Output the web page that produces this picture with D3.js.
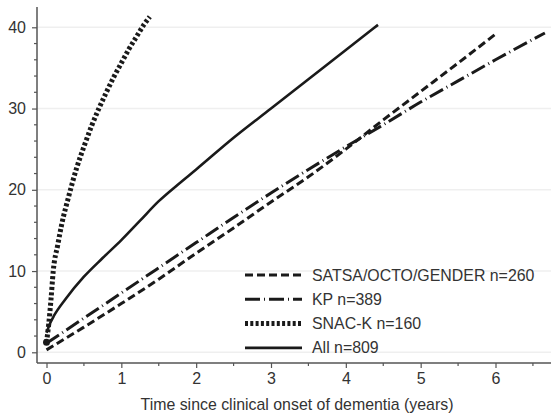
<!DOCTYPE html>
<html>
<head>
<meta charset="utf-8">
<script src="https://cdn.jsdelivr.net/npm/d3@7"></script>
<style>
  body { margin: 0; background: #fff; }
  text { font-family: "Liberation Sans", Arial, sans-serif; fill: #333; }
</style>
</head>
<body>
<svg id="chart" width="551" height="417"></svg>
<script>
// series: [years since onset, value]
const satsa = [[0, 0.3], [0.5, 3.1], [1, 6.0], [1.5, 9.0], [2, 12.2], [2.5, 15.3], [3, 18.5], [3.5, 21.6], [4, 25.0], [4.5, 28.6], [5, 32.1], [5.5, 35.6], [6.02, 39.3]];
const kp = [[0, 1.1], [0.5, 4.2], [1, 7.3], [1.5, 10.4], [2, 13.5], [2.5, 16.6], [3, 19.6], [3.5, 22.5], [4, 25.3], [4.5, 28.0], [5, 30.8], [5.5, 33.4], [6, 36.0], [6.66, 39.3]];
const snack = [[0, 1.2], [0.03, 3.5], [0.06, 6.5], [0.09, 10.0], [0.15, 13.2], [0.2, 15.6], [0.3, 19.3], [0.4, 22.6], [0.5, 25.3], [0.6, 27.8], [0.7, 30.0], [0.8, 32.0], [0.9, 33.9], [1.0, 35.6], [1.1, 37.3], [1.2, 38.8], [1.3, 40.3], [1.38, 41.3]];
const all = [[0, 2.4], [0.05, 3.6], [0.1, 4.5], [0.25, 6.5], [0.5, 9.3], [0.75, 11.6], [1.0, 13.8], [1.25, 16.2], [1.5, 18.6], [1.75, 20.6], [2, 22.5], [2.5, 26.4], [3, 30.0], [3.5, 33.6], [4, 37.2], [4.43, 40.3]];
const startDots = [[0, 1.25]];

const legendLabels = ["SATSA/OCTO/GENDER n=260", "KP n=389", "SNAC-K n=160", "All n=809"];
const xTicks = [0, 1, 2, 3, 4, 5, 6];
const yTicks = [0, 10, 20, 30, 40];
const xLabel = "Time since clinical onset of dementia (years)";

const svg = d3.select("#chart");
const x = d3.scaleLinear().domain([0, 6]).range([46.5, 495.5]);
const y = d3.scaleLinear().domain([0, 40]).range([352.3, 27.3]);
const axisX0 = 37, axisY0 = 363;

// grid
svg.append("g").selectAll("line").data(yTicks).enter().append("line")
  .attr("x1", axisX0).attr("x2", 551)
  .attr("y1", d => y(d)).attr("y2", d => y(d))
  .attr("stroke", "#efefef").attr("stroke-width", 1.5);

// x axis
const gx = svg.append("g").attr("transform", "translate(0," + axisY0 + ")");
gx.append("line").attr("x1", axisX0).attr("x2", 551).attr("stroke", "#555").attr("stroke-width", 1.5);
gx.selectAll(".minor").data(d3.range(0.5, 6.8, 1)).enter().append("line")
  .attr("x1", d => x(d)).attr("x2", d => x(d)).attr("y1", 0).attr("y2", 3)
  .attr("stroke", "#555").attr("stroke-width", 1.2);
const xAxis = d3.axisBottom(x).tickValues(xTicks).tickSize(5).tickPadding(5).tickFormat(d3.format("d"));
const ax = svg.append("g").attr("transform", "translate(0," + axisY0 + ")").call(xAxis);
ax.select(".domain").remove();
ax.selectAll("line").attr("stroke", "#555").attr("stroke-width", 1.2);
ax.selectAll("text").attr("font-size", 16).attr("fill", "#333").attr("font-family", "Liberation Sans, Arial, sans-serif");

// y axis
const gy = svg.append("g").attr("transform", "translate(" + axisX0 + ",0)");
gy.append("line").attr("y1", 7).attr("y2", axisY0).attr("stroke", "#555").attr("stroke-width", 1.5);
gy.selectAll(".minor").data(d3.range(0, 42, 2).filter(d => d % 10 !== 0)).enter().append("line")
  .attr("x1", -3).attr("x2", 0).attr("y1", d => y(d)).attr("y2", d => y(d))
  .attr("stroke", "#555").attr("stroke-width", 1.2);
const yAxis = d3.axisLeft(y).tickValues(yTicks).tickSize(5).tickPadding(6);
const ay = svg.append("g").attr("transform", "translate(" + axisX0 + ",0)").call(yAxis);
ay.select(".domain").remove();
ay.selectAll("line").attr("stroke", "#555").attr("stroke-width", 1.2);
ay.selectAll("text").attr("font-size", 16).attr("fill", "#333").attr("font-family", "Liberation Sans, Arial, sans-serif");

// lines
const line = d3.line().x(d => x(d[0])).y(d => y(d[1])).curve(d3.curveMonotoneX);
const styles = [
  { data: satsa, w: 3, dash: "8,4" },
  { data: kp, w: 3, dash: "15,4,1,4" },
  { data: snack, w: 5, dash: "3,2.3" },
  { data: all, w: 2.6, dash: null }
];
styles.forEach(s => {
  svg.append("path").datum(s.data).attr("d", line)
    .attr("fill", "none").attr("stroke", "#1a1a1a")
    .attr("stroke-width", s.w).attr("stroke-dasharray", s.dash);
});
svg.selectAll(".dot").data(startDots).enter().append("circle")
  .attr("cx", d => x(d[0])).attr("cy", d => y(d[1])).attr("r", 3.5).attr("fill", "#1a1a1a");

// legend
const lg = svg.append("g").attr("transform", "translate(245,275)");
legendLabels.forEach((lab, i) => {
  const s = styles[i];
  lg.append("line").attr("x1", 0).attr("x2", 57).attr("y1", i * 24.3).attr("y2", i * 24.3)
    .attr("stroke", "#1a1a1a").attr("stroke-width", s.w).attr("stroke-dasharray", s.dash);
  lg.append("text").attr("x", 67).attr("y", i * 24.3 + 5.5).attr("font-size", 15.9).text(lab);
});

// x label
svg.append("text").attr("x", 297).attr("y", 410).attr("text-anchor", "middle")
  .attr("font-size", 15.9).text(xLabel);
</script>
</body>
</html>
